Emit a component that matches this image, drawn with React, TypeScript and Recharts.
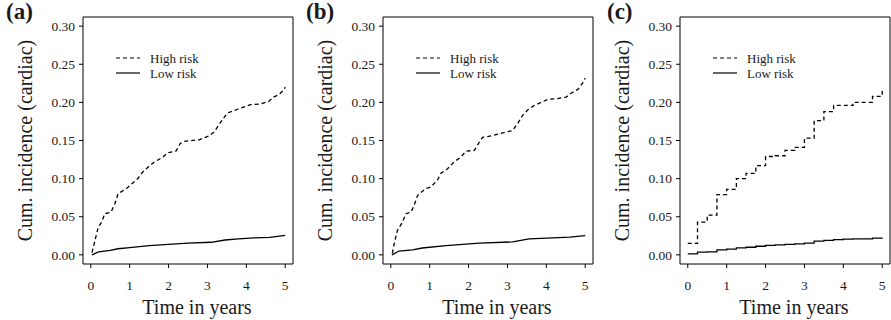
import React from 'react';
import { LineChart, Line, XAxis, YAxis, ReferenceArea, Legend } from 'recharts';

// ---------- Data ----------
const xTicks = [0, 1, 2, 3, 4, 5];
const yTicks = [0, 0.05, 0.1, 0.15, 0.2, 0.25, 0.3];
const panelLabels = ['(a)', '(b)', '(c)'];
const seriesNames = ['High risk', 'Low risk'];

// Panel (a)
const aHighT = [0.03, 0.09, 0.19, 0.28, 0.36, 0.52, 0.62, 0.70, 0.92, 1.05, 1.21, 1.34, 1.47, 1.64, 1.85, 1.98, 2.19, 2.30, 2.41, 2.79, 3.04, 3.17, 3.34, 3.51, 3.77, 4.11, 4.36, 4.57, 4.70, 4.83, 4.96, 5.0];
const aHighV = [0.003, 0.015, 0.036, 0.043, 0.054, 0.056, 0.067, 0.080, 0.087, 0.093, 0.100, 0.109, 0.115, 0.122, 0.128, 0.134, 0.136, 0.146, 0.149, 0.151, 0.156, 0.161, 0.174, 0.186, 0.191, 0.197, 0.198, 0.201, 0.207, 0.210, 0.216, 0.220];
const aLowT = [0.03, 0.2, 0.5, 0.7, 1.0, 1.5, 2.0, 2.5, 3.1, 3.45, 3.8, 4.2, 4.6, 5.0];
const aLowV = [0.0, 0.004, 0.006, 0.008, 0.0095, 0.012, 0.0138, 0.0155, 0.0165, 0.0195, 0.021, 0.0222, 0.023, 0.0255];

// Panel (b)
const bHighT = [0.04, 0.09, 0.17, 0.30, 0.39, 0.52, 0.60, 0.69, 0.90, 1.03, 1.20, 1.29, 1.46, 1.63, 1.80, 1.93, 2.15, 2.28, 2.36, 2.58, 2.79, 2.96, 3.13, 3.26, 3.39, 3.52, 3.69, 3.91, 4.04, 4.29, 4.51, 4.64, 4.81, 4.94, 5.0];
const bHighV = [0.002, 0.015, 0.032, 0.043, 0.054, 0.056, 0.065, 0.078, 0.087, 0.089, 0.098, 0.107, 0.113, 0.122, 0.128, 0.136, 0.137, 0.148, 0.154, 0.156, 0.159, 0.161, 0.163, 0.172, 0.183, 0.190, 0.196, 0.201, 0.204, 0.205, 0.207, 0.212, 0.217, 0.226, 0.232];
const bLowT = [0.03, 0.21, 0.56, 0.81, 1.42, 2.28, 3.13, 3.56, 4.16, 4.6, 5.0];
const bLowV = [0.0, 0.005, 0.0066, 0.009, 0.012, 0.0153, 0.017, 0.021, 0.0224, 0.0232, 0.0252];

// Panel (c) (step functions, quarterly)
const cT = [0, 0.25, 0.5, 0.75, 1.0, 1.25, 1.5, 1.75, 2.0, 2.25, 2.5, 2.75, 3.0, 3.25, 3.5, 3.75, 4.0, 4.25, 4.5, 4.75, 5.0];
const cHighV = [0.015, 0.043, 0.052, 0.079, 0.086, 0.100, 0.107, 0.117, 0.129, 0.130, 0.137, 0.141, 0.153, 0.176, 0.188, 0.196, 0.196, 0.200, 0.200, 0.208, 0.215];
const cLowV = [0.0013, 0.0035, 0.0040, 0.0066, 0.0075, 0.0092, 0.0100, 0.0113, 0.0125, 0.0130, 0.0138, 0.0145, 0.0153, 0.0180, 0.0190, 0.0200, 0.0205, 0.0210, 0.0210, 0.0220, 0.0225];

// ---------- Helpers ----------
const toPoints = (ts: number[], vs: number[]) => ts.map((t, i) => ({ t, v: vs[i] }));

const FONT = '"Liberation Serif", "Times New Roman", Times, serif';
const X_DOMAIN: [number, number] = [-0.2, 5.2];
const Y_DOMAIN: [number, number] = [-0.012, 0.312];
const DASH = '4 3';
const TEXT = '#1a1a1a';

const panels = [
  { label: panelLabels[0], left: 0, width: 297, right: 4, high: toPoints(aHighT, aHighV), low: toPoints(aLowT, aLowV), curve: 'linear' },
  { label: panelLabels[1], left: 300, width: 297, right: 4, high: toPoints(bHighT, bHighV), low: toPoints(bLowT, bLowV), curve: 'linear' },
  { label: panelLabels[2], left: 597, width: 294, right: 1, high: toPoints(cT, cHighV), low: toPoints(cT, cLowV), curve: 'stepAfter' },
];

const XTick = (props: any) => {
  const { x, y, payload } = props;
  return (
    <text x={x} y={y} dy="0.75em" textAnchor="middle" style={{ fontFamily: FONT, fontSize: 13.5 }} fill={TEXT}>
      {String(payload.value)}
    </text>
  );
};

const YTick = (props: any) => {
  const { x, y, payload } = props;
  return (
    <text x={x} y={y} dy="0.35em" textAnchor="end" style={{ fontFamily: FONT, fontSize: 13.5 }} fill={TEXT}>
      {Number(payload.value).toFixed(2)}
    </text>
  );
};

const LegendBox = (props: any) => {
  const payload = props.payload || [];
  const items = payload.length
    ? payload.map((p: any) => ({ name: p.value, dash: p.payload && p.payload.strokeDasharray }))
    : [{ name: seriesNames[0], dash: DASH }, { name: seriesNames[1], dash: undefined }];
  return (
    <svg width={110} height={34} style={{ display: 'block' }}>
      {items.map((it: any, i: number) => (
        <g key={i}>
          <line x1={4} x2={28} y1={10 + i * 15} y2={10 + i * 15} stroke="#000" strokeWidth={1.2} strokeDasharray={it.dash} />
          <text x={38} y={14.5 + i * 15} style={{ fontSize: 13, fontFamily: FONT }} fill={TEXT}>{it.name}</text>
        </g>
      ))}
    </svg>
  );
};

const Panel = ({ p }: { p: any }) => (
  <div style={{ position: 'absolute', left: p.left, top: 0 }}>
    <LineChart width={p.width} height={320} margin={{ top: 17, right: p.right, bottom: 0, left: 14 }}>
      <XAxis
        type="number"
        dataKey="t"
        domain={X_DOMAIN}
        ticks={xTicks}
        allowDataOverflow
        axisLine={false}
        tickLine={{ stroke: '#000' }}
        tickSize={4}
        tickMargin={12}
        height={56}
        tick={<XTick />}
        label={{ value: 'Time in years', position: 'insideBottom', offset: 6, dx: 9, fontSize: 20, fill: TEXT, style: { fontFamily: FONT } }}
      />
      <YAxis
        type="number"
        dataKey="v"
        domain={Y_DOMAIN}
        ticks={yTicks}
        allowDataOverflow
        axisLine={false}
        tickLine={{ stroke: '#000' }}
        tickSize={4}
        tickMargin={4}
        width={69}
        tick={<YTick />}
        label={{ value: 'Cum. incidence (cardiac)', angle: -90, position: 'insideLeft', offset: 11, fontSize: 20, fill: TEXT, style: { textAnchor: 'middle', fontFamily: FONT } }}
      />
      <ReferenceArea x1={X_DOMAIN[0]} x2={X_DOMAIN[1]} y1={Y_DOMAIN[0]} y2={Y_DOMAIN[1]} fill="none" stroke="#000" strokeWidth={1} ifOverflow="visible" />
      <Line data={p.high} dataKey="v" name={seriesNames[0]} type={p.curve} stroke="#000" strokeWidth={1.3} strokeDasharray={DASH} dot={false} activeDot={false} isAnimationActive={false} />
      <Line data={p.low} dataKey="v" name={seriesNames[1]} type={p.curve} stroke="#000" strokeWidth={1.3} dot={false} activeDot={false} isAnimationActive={false} />
      <Legend
        layout="horizontal"
        verticalAlign="middle"
        content={<LegendBox />}
        wrapperStyle={{ left: 112, top: 48, width: 110, height: 34 }}
      />
    </LineChart>
  </div>
);

export default function App() {
  return (
    <div style={{ position: 'absolute', left: 0, top: 0, width: 891, height: 320, background: '#fff', overflow: 'hidden' }}>
      {panels.map((p, i) => (
        <Panel key={i} p={p} />
      ))}
      <svg width={891} height={320} style={{ position: 'absolute', left: 0, top: 0, pointerEvents: 'none' }}>
        {panels.map((p, i) => (
          <text key={i} x={p.left + (i === 2 ? 10 : 6)} y={19} style={{ fontSize: 23, fontWeight: 'bold', fontFamily: FONT }} fill={TEXT}>{p.label}</text>
        ))}
      </svg>
    </div>
  );
}
